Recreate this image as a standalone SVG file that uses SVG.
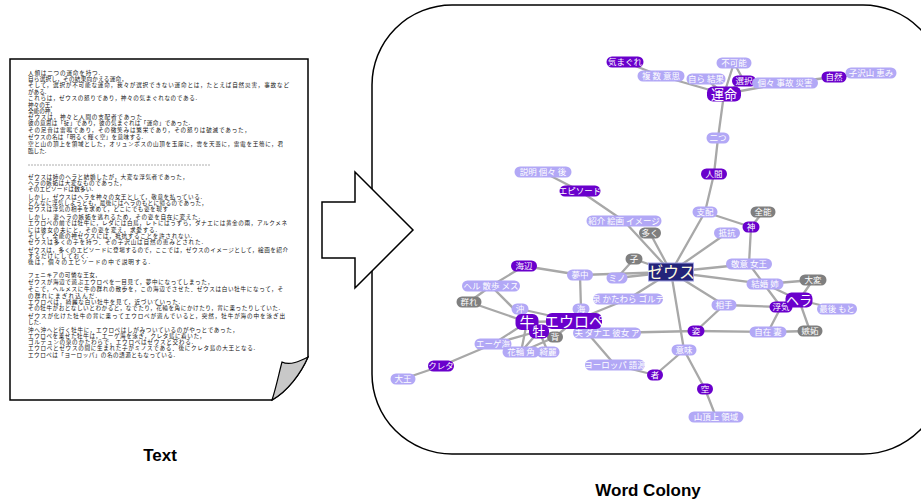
<svg xmlns="http://www.w3.org/2000/svg" width="921" height="501" viewBox="0 0 921 501">
<style>
.doc{font-family:"Noto Sans CJK JP","Noto Sans CJK SC",sans-serif;font-size:5.6px;fill:#111}
.cap{font-family:"Liberation Sans",Arial,sans-serif;font-size:17px;font-weight:bold;fill:#000}
.e line{stroke:#a8a8a8;stroke-width:2.3;stroke-linecap:round}
.n text{font-family:"Noto Sans CJK JP","Noto Sans CJK SC",sans-serif;font-size:8.5px;fill:#fff;text-anchor:middle}
.l rect{fill:#b2a8f6}
.d rect{fill:#6a00cc}
.g rect{fill:#7f7f7f}
.z rect{fill:#23237a;stroke:#a0a0e0;stroke-width:1}
.z text{fill:#fffbe0;font-size:16px}
.b text{font-size:13px}
.bb text{font-size:15px}
</style>

<!-- document page -->
<g id="page">
<path d="M10,59 H308 V357 C301,373 288,391 272,400 H10 Z" fill="#fff" stroke="#000" stroke-width="1.5"/>
<path d="M308,357 C301,373 288,391 272,400 C276,388 279,373 282,362 C290,366 300,361 308,357 Z" fill="#c8c8c8" stroke="#000" stroke-width="1.2"/>
<g class="doc">
<text x="28" y="75" textLength="72" lengthAdjust="spacing">人類は二つの運命を持つ.</text>
<text x="28" y="81" textLength="99" lengthAdjust="spacing">自ら選択し，その結果向かえる運命，</text>
<text x="28" y="87" textLength="261" lengthAdjust="spacing">そして，選択が不可能な運命，我々が選択できない運命とは，たとえば自然災害，事故など</text>
<text x="28" y="94">がある.</text>
<text x="28" y="100" textLength="169" lengthAdjust="spacing">これらは，ゼウスの怒りであり，神々の気まぐれなのである.</text>
<text x="28" y="107">神々の王,</text>
<text x="28" y="113">全能の神,</text>
<text x="28" y="119" textLength="114" lengthAdjust="spacing">ゼウスは，神々と人間の支配者であった</text>
<text x="28" y="125" textLength="162" lengthAdjust="spacing">彼の意思は「掟」であり，彼の気まぐれは「運命」であった.</text>
<text x="28" y="132" textLength="222" lengthAdjust="spacing">その足音は雷鳴であり，その微笑みは繁栄であり，その怒りは破滅であった，</text>
<text x="28" y="139" textLength="115" lengthAdjust="spacing">ゼウスの名は「明るく輝く空」を意味する.</text>
<text x="28" y="146" textLength="255" lengthAdjust="spacing">空と山の頂上を領域とした，オリュンポスの山頂を玉座に，雲を天蓋に，雷電を王笏に，君</text>
<text x="28" y="153">臨した.</text>
</g>
<line x1="28" y1="165" x2="211" y2="165" stroke="#999" stroke-width="0.8" stroke-dasharray="2,1"/>
<g class="doc">
<text x="28" y="179" textLength="160" lengthAdjust="spacing">ゼウスは姉のヘラと結婚したが，大変な浮気者であった，</text>
<text x="28" y="185" textLength="97" lengthAdjust="spacing">ヘラの嫉妬は大変なものであった，</text>
<text x="28" y="191" textLength="65" lengthAdjust="spacing">そのエピソードは数多い.</text>
<text x="28" y="199" textLength="174" lengthAdjust="spacing">しかし，ゼウスはヘラを神々の女王として，敬意を払っている.</text>
<text x="28" y="205" textLength="179" lengthAdjust="spacing">どんなに浮気しようとも，最後にはヘラのもとに帰るのであった，</text>
<text x="28" y="211" textLength="140" lengthAdjust="spacing">ゼウスは浮気の相手を求めて，どこにでも姿を現す</text>
<text x="28" y="219" textLength="172" lengthAdjust="spacing">しかし，妻ヘラの嫉妬を逃れるため，その姿を自在に変えた.</text>
<text x="28" y="225" textLength="259" lengthAdjust="spacing">エウロペの前では牡牛に，レダには白鳥，レトにはうずら，ダナエには黄金の雨，アルクメネ</text>
<text x="28" y="232" textLength="129" lengthAdjust="spacing">には彼女の夫にと，その姿を変え，求愛する.</text>
<text x="28" y="238" textLength="164" lengthAdjust="spacing">そして，全能の神ゼウスには，抵抗することを許されない.</text>
<text x="28" y="244" textLength="175" lengthAdjust="spacing">ゼウスは多くの子を持つ．その子沢山は自然の恵みとされた.</text>
<text x="28" y="252" textLength="260" lengthAdjust="spacing">ゼウスは，多くのエピソードに登場するので，ここでは，ゼウスのイメージとして，絵画を紹介</text>
<text x="28" y="258" textLength="60" lengthAdjust="spacing">するだけにしておく.</text>
<text x="28" y="264" textLength="122" lengthAdjust="spacing">後は，個々のエピソードの中で説明する.</text>
</g>
<g class="doc">
<text x="28" y="277" textLength="69" lengthAdjust="spacing">フェニキアの可憐な王女,</text>
<text x="28" y="284" textLength="185" lengthAdjust="spacing">ゼウスが海辺で遊ぶエウロペを一目見て，夢中になってしまった，</text>
<text x="28" y="291" textLength="255" lengthAdjust="spacing">そこで，ヘルメスに牛の群れの散歩を，この海辺でさせた．ゼウスは白い牡牛になって，そ</text>
<text x="28" y="298" textLength="69" lengthAdjust="spacing">の群れにまぎれ込んだ.</text>
<text x="28" y="304" textLength="152" lengthAdjust="spacing">エウロペは，綺麗な白い牡牛を見て，近づいていった.</text>
<text x="28" y="310" textLength="252" lengthAdjust="spacing">その牡牛がおとなしいとわかると，なでたり，花輪を角にかけたり，背に乗ったりしていた.</text>
<text x="28" y="318" textLength="257" lengthAdjust="spacing">ゼウスが化けた牡牛の背に乗ってエウロペが遊んでいると，突然，牡牛が海の中を泳ぎ出</text>
<text x="28" y="324">した.</text>
<text x="28" y="332" textLength="210" lengthAdjust="spacing">沖へ沖へと行く牡牛に，エウロペはしがみついているのがやっとであった，</text>
<text x="28" y="338" textLength="177" lengthAdjust="spacing">エウロペを乗せた牡牛は，エーゲ海を泳ぎ，クレタ島に着いた，</text>
<text x="28" y="344" textLength="165" lengthAdjust="spacing">ゴルテュンの泉のかたわらで，エウロペはゼウスと交わる.</text>
<text x="28" y="350" textLength="227" lengthAdjust="spacing">エウロペとゼウスの間に生まれた子がミノスである．後にクレタ島の大王となる.</text>
<text x="28" y="357" textLength="147" lengthAdjust="spacing">エウロペは「ヨーロッパ」の名の語源ともなっている.</text>
</g>
</g>

<!-- bubble -->
<rect id="bubble" x="372" y="5" width="571" height="449" rx="80" ry="80" fill="#fff" stroke="#000" stroke-width="1.5"/>

<!-- arrow -->
<path id="arrow" d="M322,202 H355 V172 L413,230 L355,288 V258 H322 Z" fill="#fff" stroke="#000" stroke-width="1.5"/>

<text class="cap" x="160" y="461" text-anchor="middle">Text</text>
<text class="cap" x="648" y="496" text-anchor="middle">Word Colony</text>

<!-- connectors -->
<g id="connectors" class="e">
<line x1="625" y1="62" x2="661" y2="76"/>
<line x1="661" y1="76" x2="724" y2="94"/>
<line x1="706" y1="79" x2="724" y2="94"/>
<line x1="734" y1="63" x2="724" y2="94"/>
<line x1="734" y1="63" x2="744" y2="81"/>
<line x1="744" y1="81" x2="724" y2="94"/>
<line x1="785" y1="83" x2="724" y2="94"/>
<line x1="785" y1="83" x2="834" y2="77"/>
<line x1="834" y1="77" x2="871" y2="73"/>
<line x1="724" y1="94" x2="718" y2="138"/>
<line x1="718" y1="138" x2="714" y2="174"/>
<line x1="714" y1="174" x2="705" y2="212"/>
<line x1="705" y1="212" x2="671" y2="272"/>
<line x1="705" y1="212" x2="751" y2="227"/>
<line x1="751" y1="227" x2="763" y2="212"/>
<line x1="751" y1="227" x2="749" y2="264"/>
<line x1="727" y1="233" x2="671" y2="272"/>
<line x1="543" y1="172" x2="580" y2="191"/>
<line x1="580" y1="191" x2="624" y2="221"/>
<line x1="624" y1="221" x2="671" y2="272"/>
<line x1="650" y1="233" x2="671" y2="272"/>
<line x1="634" y1="259" x2="671" y2="272"/>
<line x1="634" y1="259" x2="617" y2="278"/>
<line x1="749" y1="264" x2="671" y2="272"/>
<line x1="765" y1="284" x2="671" y2="272"/>
<line x1="749" y1="264" x2="781" y2="307"/>
<line x1="765" y1="284" x2="799" y2="300"/>
<line x1="813" y1="280" x2="765" y2="284"/>
<line x1="813" y1="280" x2="799" y2="300"/>
<line x1="799" y1="300" x2="837" y2="309"/>
<line x1="799" y1="300" x2="810" y2="331"/>
<line x1="781" y1="307" x2="768" y2="332"/>
<line x1="781" y1="307" x2="724" y2="305"/>
<line x1="810" y1="331" x2="768" y2="332"/>
<line x1="768" y1="332" x2="696" y2="331"/>
<line x1="607" y1="333" x2="696" y2="331"/>
<line x1="724" y1="305" x2="671" y2="272"/>
<line x1="724" y1="305" x2="696" y2="331"/>
<line x1="671" y1="272" x2="684" y2="350"/>
<line x1="684" y1="350" x2="705" y2="389"/>
<line x1="705" y1="389" x2="716" y2="417"/>
<line x1="684" y1="350" x2="655" y2="375"/>
<line x1="655" y1="375" x2="615" y2="365"/>
<line x1="615" y1="365" x2="578" y2="322"/>
<line x1="628" y1="299" x2="671" y2="272"/>
<line x1="617" y1="278" x2="671" y2="272"/>
<line x1="580" y1="275" x2="671" y2="272"/>
<line x1="580" y1="275" x2="524" y2="266"/>
<line x1="580" y1="275" x2="581" y2="309"/>
<line x1="581" y1="309" x2="574" y2="321"/>
<line x1="628" y1="299" x2="574" y2="321"/>
<line x1="524" y1="266" x2="491" y2="286"/>
<line x1="491" y1="286" x2="469" y2="302"/>
<line x1="491" y1="286" x2="527" y2="322"/>
<line x1="469" y1="302" x2="527" y2="322"/>
<line x1="520" y1="309" x2="574" y2="321"/>
<line x1="520" y1="309" x2="527" y2="322"/>
<line x1="527" y1="322" x2="574" y2="321"/>
<line x1="527" y1="322" x2="493" y2="344"/>
<line x1="539" y1="331" x2="493" y2="344"/>
<line x1="539" y1="331" x2="521" y2="352"/>
<line x1="527" y1="322" x2="521" y2="352"/>
<line x1="539" y1="331" x2="548" y2="352"/>
<line x1="555" y1="337" x2="539" y2="331"/>
<line x1="555" y1="337" x2="574" y2="321"/>
<line x1="555" y1="337" x2="521" y2="352"/>
<line x1="493" y1="344" x2="441" y2="366"/>
<line x1="441" y1="366" x2="403" y2="379"/>
</g>

<!-- nodes -->
<g id="n-kimagure" class="n d"><rect x="606.5" y="56.5" width="37" height="11" rx="5.5"/><text x="625" y="65">気まぐれ</text></g>
<g id="n-fukusu" class="n l"><rect x="637.5" y="70.5" width="47" height="11" rx="5.5"/><text x="661" y="79">複 数 意思</text></g>
<g id="n-mizukara" class="n l"><rect x="686.5" y="73.5" width="39" height="11" rx="5.5"/><text x="706" y="82">自ら 結果</text></g>
<g id="n-fukanou" class="n l"><rect x="716.5" y="57.5" width="35" height="11" rx="5.5"/><text x="734" y="66">不可能</text></g>
<g id="n-sentaku" class="n d"><rect x="732" y="75.5" width="24" height="11" rx="5.5"/><text x="744" y="84">選択</text></g>
<g id="n-koko" class="n l"><rect x="752" y="77.5" width="66" height="11" rx="5.5"/><text x="785" y="86">個々 事故 災害</text></g>
<g id="n-unmei" class="n d b"><rect x="707" y="86.5" width="34" height="15" rx="6"/><text x="724" y="98.5">運命</text></g>
<g id="n-shizen" class="n d"><rect x="821.5" y="71.5" width="25" height="11" rx="5.5"/><text x="834" y="80">自然</text></g>
<g id="n-kodakusan" class="n l"><rect x="845.5" y="67.5" width="51" height="11" rx="5.5"/><text x="871" y="76">子沢山 恵み</text></g>
<g id="n-futatsu" class="n l"><rect x="706.5" y="132.5" width="23" height="11" rx="5.5"/><text x="718" y="141">二つ</text></g>
<g id="n-ningen" class="n d"><rect x="701" y="168.5" width="26" height="11" rx="5.5"/><text x="714" y="177">人間</text></g>
<g id="n-setsumei" class="n l"><rect x="514.5" y="166.5" width="57" height="11" rx="5.5"/><text x="543" y="175">説明 個々 後</text></g>
<g id="n-episode" class="n d"><rect x="559.5" y="185.5" width="41" height="11" rx="5.5"/><text x="580" y="194">エピソード</text></g>
<g id="n-shoukai" class="n l"><rect x="586.5" y="215.5" width="75" height="11" rx="5.5"/><text x="624" y="224">紹介 絵画 イメージ</text></g>
<g id="n-ooku" class="n g"><rect x="639" y="227.5" width="22" height="11" rx="5.5"/><text x="650" y="236">多く</text></g>
<g id="n-ko" class="n g"><rect x="625.5" y="253.5" width="17" height="11" rx="5.5"/><text x="634" y="262">子</text></g>
<g id="n-shihai" class="n l"><rect x="692.5" y="206.5" width="25" height="11" rx="5.5"/><text x="705" y="215">支配</text></g>
<g id="n-zennou" class="n g"><rect x="750.5" y="206.5" width="25" height="11" rx="5.5"/><text x="763" y="215">全能</text></g>
<g id="n-kami" class="n d"><rect x="742.5" y="221.5" width="17" height="11" rx="5.5"/><text x="751" y="230">神</text></g>
<g id="n-teikou" class="n l"><rect x="714" y="227.5" width="26" height="11" rx="5.5"/><text x="727" y="236">抵抗</text></g>
<g id="n-keii" class="n l"><rect x="726" y="258.5" width="46" height="11" rx="5.5"/><text x="749" y="267">敬意 女王</text></g>
<g id="n-kekkon" class="n l"><rect x="746.5" y="278.5" width="37" height="11" rx="5.5"/><text x="765" y="287">結婚 姉</text></g>
<g id="n-taihen" class="n g"><rect x="799.5" y="274.5" width="27" height="11" rx="5.5"/><text x="813" y="283">大変</text></g>
<g id="n-uwaki" class="n d"><rect x="769.5" y="301.5" width="23" height="11" rx="5.5"/><text x="781" y="310">浮気</text></g>
<g id="n-hera" class="n d b"><rect x="785.5" y="292.5" width="27" height="15" rx="6"/><text x="799" y="304.5">ヘラ</text></g>
<g id="n-saigo" class="n l"><rect x="817" y="303.5" width="40" height="11" rx="5.5"/><text x="837" y="312">最後 もと</text></g>
<g id="n-shitto" class="n g"><rect x="797.5" y="325.5" width="25" height="11" rx="5.5"/><text x="810" y="334">嫉妬</text></g>
<g id="n-jizai" class="n l"><rect x="749.5" y="326.5" width="37" height="11" rx="5.5"/><text x="768" y="335">自在 妻</text></g>
<g id="n-aite" class="n l"><rect x="711.5" y="299.5" width="25" height="11" rx="5.5"/><text x="724" y="308">相手</text></g>
<g id="n-sugata" class="n d"><rect x="687.5" y="325.5" width="17" height="11" rx="5.5"/><text x="696" y="334">姿</text></g>
<g id="n-imi" class="n l"><rect x="671.5" y="344.5" width="25" height="11" rx="5.5"/><text x="684" y="353">意味</text></g>
<g id="n-mono" class="n d"><rect x="647" y="369.5" width="16" height="11" rx="5.5"/><text x="655" y="378">者</text></g>
<g id="n-sora" class="n d"><rect x="697" y="383.5" width="16" height="11" rx="5.5"/><text x="705" y="392">空</text></g>
<g id="n-sanchou" class="n l"><rect x="688.5" y="411.5" width="55" height="11" rx="5.5"/><text x="716" y="420">山頂上 領域</text></g>
<g id="n-europe-gogen" class="n l"><rect x="585" y="359.5" width="60" height="11" rx="5.5"/><text x="615" y="368">ヨーロッパ 語源</text></g>
<g id="n-otto" class="n l"><rect x="573" y="327.5" width="68" height="11" rx="5.5"/><text x="607" y="336">夫 ダナエ 彼女 ア</text></g>
<g id="n-izumi" class="n l"><rect x="593" y="293.5" width="70" height="11" rx="5.5"/><text x="628" y="302">泉 かたわら ゴルテ</text></g>
<g id="n-mino" class="n l"><rect x="606.5" y="272.5" width="21" height="11" rx="5.5"/><text x="617" y="281">ミノ</text></g>
<g id="n-muchu" class="n l"><rect x="567" y="269.5" width="26" height="11" rx="5.5"/><text x="580" y="278">夢中</text></g>
<g id="n-umi" class="n l"><rect x="572.5" y="303.5" width="17" height="11" rx="5.5"/><text x="581" y="312">海</text></g>
<g id="n-umibe" class="n d"><rect x="511" y="260.5" width="26" height="11" rx="5.5"/><text x="524" y="269">海辺</text></g>
<g id="n-herumesu" class="n l"><rect x="462" y="280.5" width="58" height="11" rx="5.5"/><text x="491" y="289">ヘル 散歩 メス</text></g>
<g id="n-mure" class="n g"><rect x="456.5" y="296.5" width="25" height="11" rx="5.5"/><text x="469" y="305">群れ</text></g>
<g id="n-oki" class="n l"><rect x="511.5" y="303.5" width="17" height="11" rx="5.5"/><text x="520" y="312">沖</text></g>
<g id="n-europa" class="n d bb"><rect x="546" y="313" width="56" height="16" rx="6"/><text x="574" y="326.5">エウロペ</text></g>
<g id="n-ushi" class="n d bb"><rect x="515.5" y="314" width="23" height="16" rx="6"/><text x="527" y="327.5">牛</text></g>
<g id="n-se" class="n g"><rect x="547" y="331.5" width="16" height="11" rx="5.5"/><text x="555" y="340">背</text></g>
<g id="n-oushi" class="n d b"><rect x="529" y="324.5" width="20" height="14" rx="6"/><text x="539" y="336">牡</text></g>
<g id="n-ege" class="n l"><rect x="474.5" y="338.5" width="37" height="11" rx="5.5"/><text x="493" y="347">エーゲ海</text></g>
<g id="n-hanawa" class="n l"><rect x="502.5" y="346.5" width="37" height="11" rx="5.5"/><text x="521" y="355">花輪 角</text></g>
<g id="n-kirei" class="n l"><rect x="536.5" y="346.5" width="23" height="11" rx="5.5"/><text x="548" y="355">綺麗</text></g>
<g id="n-kureta" class="n d"><rect x="428" y="360.5" width="26" height="11" rx="5.5"/><text x="441" y="369">クレタ</text></g>
<g id="n-daiou" class="n l"><rect x="390.5" y="373.5" width="25" height="11" rx="5.5"/><text x="403" y="382">大王</text></g>
<g id="n-zeus" class="n z"><rect x="648.5" y="263" width="45" height="18"/><text x="671" y="278">ゼウス</text></g>
</svg>
